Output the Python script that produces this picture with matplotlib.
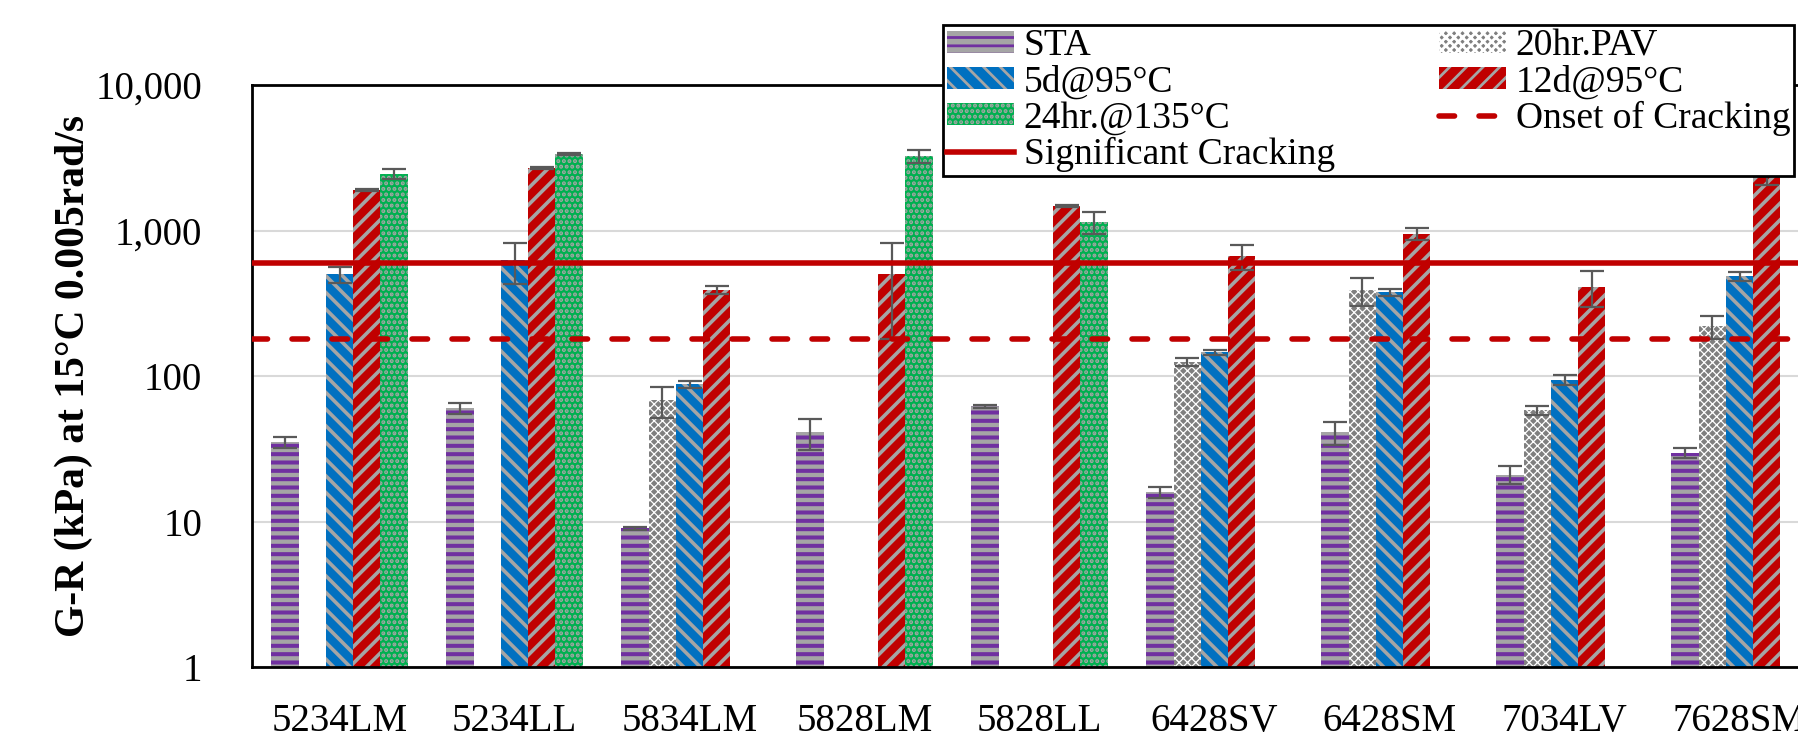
import matplotlib
matplotlib.use('Agg')
import matplotlib.pyplot as plt
import matplotlib.ticker as mtick
import numpy as np

nan = np.nan

categories = ['5234LM', '5234LL', '5834LM', '5828LM', '5828LL', '6428SV', '6428SM', '7034LV', '7628SM']

sta = [35, 60, 9.0, 41, 62, 15.9, 41, 21, 29.7]
sta_err = [3, 5, 0.2, 10, 1.5, 1.3, 7.3, 3, 2.4]
pav = [nan, nan, 68, nan, nan, 125, 387, 58, 219]
pav_err = [nan, nan, 16.5, nan, nan, 8, 85, 4.3, 39]
d5 = [502, 625, 88, nan, nan, 146, 376, 94, 483]
d5_err = [63, 195, 5, nan, nan, 6, 22, 7.5, 33]
d12 = [1897, 2690, 390, 500, 1474, 665, 945, 412, 2700]
d12_err = [20, 30, 25, 320, 30, 128, 90, 113, 630]
h24 = [2445, 3357, nan, 3251, 1143, nan, nan, nan, nan]
h24_err = [200, 70, nan, 320, 200, nan, nan, nan, nan]

onset = 180
significant = 600


def main():
    plt.rcParams['font.family'] = ['Liberation Serif', 'DejaVu Serif']
    plt.rcParams['font.size'] = 28

    fig = plt.figure(figsize=(17.98, 7.44), dpi=100)
    ax = fig.add_axes([252 / 1798, 1 - 667 / 744, 1575 / 1798, 582 / 744])

    x = np.arange(len(categories))
    w = 0.156
    err_kw = dict(ecolor='#595959', elinewidth=1.6, capsize=8.5, capthick=1.6)

    # (values, errors, label, face, hatch colour, hatch, hatch lw)
    series = [
        (sta, sta_err, 'STA', '#A5A5A5', '#7030A0', '--', 2.9),
        (pav, pav_err, '20hr.PAV', '#7F7F7F', '#FFFFFF', 'xxxx', 0.9),
        (d5, d5_err, '5d@95°C', '#0070C0', '#A5A5A5', '\\\\', 2.6),
        (d12, d12_err, '12d@95°C', '#C00000', '#A5A5A5', '//', 2.6),
        (h24, h24_err, '24hr.@135°C', '#00B050', '#A5A5A5', '...', 2.0),
    ]

    bars = []
    for i, (vals, errs, lab, fc, hc, hatch, hlw) in enumerate(series):
        plt.rcParams['hatch.linewidth'] = hlw
        b = ax.bar(x + (i - 2) * w, vals, w, yerr=errs, label=lab, color=fc,
                   edgecolor=hc, hatch=hatch, linewidth=0, error_kw=err_kw, zorder=2)
        for p in b.patches:
            if hasattr(p, 'set_hatch_linewidth'):
                p.set_hatch_linewidth(hlw)
        bars.append(b)

    l_on = ax.axhline(onset, color='#C00000', lw=4, ls=(0, (2.8, 4.4)),
                      dash_capstyle='round', zorder=3, label='Onset of Cracking')
    l_sig = ax.axhline(significant, color='#C00000', lw=4, zorder=3,
                       label='Significant Cracking')

    ax.set_yscale('log')
    ax.set_ylim(1, 10000)
    ax.set_xlim(-0.5, len(categories) - 0.5)
    ax.yaxis.set_major_locator(mtick.FixedLocator([1, 10, 100, 1000, 10000]))
    ax.yaxis.set_minor_locator(mtick.NullLocator())
    ax.yaxis.set_major_formatter(mtick.FuncFormatter(lambda v, p: '{:,.0f}'.format(v)))
    ax.yaxis.grid(True, color='#D9D9D9', lw=1.5)
    ax.set_axisbelow(True)

    ax.set_xticks(x)
    ax.set_xticklabels(categories)
    ax.tick_params(axis='x', length=0, pad=26, labelsize=28)
    ax.tick_params(axis='y', length=0, pad=36, labelsize=28)

    for s in ax.spines.values():
        s.set_linewidth(2)
        s.set_color('black')

    ax.set_ylabel('G-R (kPa) at 15°C 0.005rad/s', fontsize=30, fontweight='bold')
    ax.yaxis.label.set_va('center')
    ax.yaxis.set_label_coords(-0.113, 0.5)

    handles = [bars[0], bars[2], bars[4], l_sig, bars[1], bars[3], l_on]
    labels = [h.get_label() for h in handles]
    leg = ax.legend(handles, labels, ncol=2, loc='upper left', mode='expand',
                    bbox_to_anchor=(943 / 1798, 1 - 172 / 744, 851 / 1798, 147 / 744),
                    bbox_transform=fig.transFigure, fontsize=27,
                    handlelength=1.8, handleheight=0.5, handletextpad=0.25,
                    columnspacing=1.1, labelspacing=0.04, borderpad=0.1,
                    borderaxespad=0, fancybox=False, framealpha=1,
                    edgecolor='black')
    leg.get_frame().set_linewidth(2)
    leg.set_zorder(10)

    fig.savefig('out.png', dpi=100)


if __name__ == '__main__':
    main()
